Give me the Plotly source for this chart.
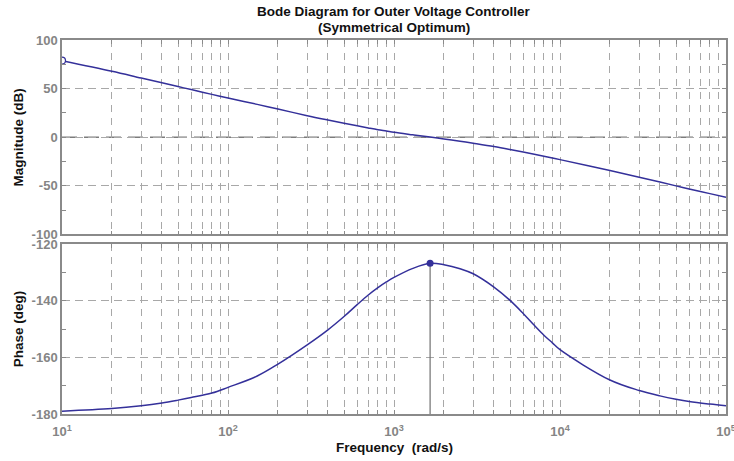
import plotly.graph_objects as go

# Open-loop frequency response of the outer voltage loop
freq_rad_s = [10, 20, 30, 40, 50, 60, 80, 100, 150, 200, 300, 400, 500, 600, 700, 800,
              900, 1000, 1300, 1650, 2000, 2500, 3000, 4000, 5000, 6000, 7000, 8000,
              9000, 10000, 20000, 30000, 40000, 50000, 60000, 80000, 100000]
magnitude_db = [78.8, 67.9, 60.9, 56.0, 52.1, 49.0, 44.1, 40.3, 33.8, 29.0, 22.2, 17.8,
                14.5, 11.8, 9.6, 7.8, 6.4, 5.1, 2.5, 0.2, -1.7, -4.1, -6.2, -9.6,
                -12.6, -15.2, -17.5, -19.6, -21.4, -23.0, -34.3, -41.1, -46.1, -50.0,
                -53.2, -58.0, -61.8]
phase_deg = [-179.0, -178.1, -177.1, -176.1, -175.1, -174.2, -172.6, -170.6, -166.6,
             -162.4, -155.6, -150.3, -145.6, -141.4, -138.0, -135.4, -133.4, -131.8,
             -128.6, -126.8, -127.3, -128.7, -130.5, -135.2, -139.9, -144.5, -148.7,
             -152.2, -154.9, -157.3, -168.0, -171.7, -173.6, -174.8, -175.6, -176.5,
             -177.1]

# Maximum phase (phase margin) point
peak_freq = 1650
peak_phase = -126.8

# Axis ticks
decades = [1, 2, 3, 4, 5]
mag_ticks = [-100, -50, 0, 50, 100]
mag_tick_text = ["-100", "-50", "0", "50", "100"]
mag_minor = [-75, -25, 25, 75]
phase_ticks = [-180, -160, -140, -120]
phase_tick_text = ["-180", "-160", "-140", "-120"]
phase_minor = [-170, -150, -130]

x_tickvals, x_ticktext = [], []
for d in decades:
    for m in range(1, 10):
        if d == 5 and m > 1:
            break
        x_tickvals.append(m * 10 ** d)
        x_ticktext.append(f"10<sup>{d}</sup>" if m == 1 else "")

CURVE = "#34309a"
FRAME = "#8a8a8a"
GRID = "#a8a8a8"
FONT_FAMILY = "Arial, Liberation Sans, sans-serif"
TICKFONT = dict(family=FONT_FAMILY, size=13, color="#858585", weight="bold")
LABELFONT = dict(family=FONT_FAMILY, size=13.5, color="#111111", weight="bold")

fig = go.Figure()

# Magnitude
fig.add_trace(go.Scatter(x=freq_rad_s, y=magnitude_db, xaxis="x2", yaxis="y2",
                         mode="lines", line=dict(color=CURVE, width=1.5, shape="spline",
                                                 smoothing=1.0),
                         showlegend=False))
fig.add_trace(go.Scatter(x=freq_rad_s[:1], y=magnitude_db[:1], xaxis="x2", yaxis="y2",
                         mode="markers",
                         marker=dict(size=7, color="white", line=dict(color=CURVE, width=1.2)),
                         showlegend=False))

# Phase
fig.add_trace(go.Scatter(x=[peak_freq, peak_freq], y=[phase_ticks[0], peak_phase],
                         xaxis="x", yaxis="y", mode="lines",
                         line=dict(color="#707070", width=1.2), showlegend=False,
                         hoverinfo="skip"))
fig.add_trace(go.Scatter(x=freq_rad_s, y=phase_deg, xaxis="x", yaxis="y",
                         mode="lines", line=dict(color=CURVE, width=1.5, shape="spline",
                                                 smoothing=1.0),
                         showlegend=False))
fig.add_trace(go.Scatter(x=[peak_freq], y=[peak_phase], xaxis="x", yaxis="y",
                         mode="markers", marker=dict(size=7, color=CURVE),
                         showlegend=False))

common_x = dict(type="log", range=[1, 5], tickmode="array", tickvals=x_tickvals,
                showgrid=True, gridcolor=GRID, gridwidth=1, griddash="7px,6px",
                showline=True, linecolor=FRAME, linewidth=1.5, mirror="ticks",
                ticks="inside", ticklen=4, tickcolor=FRAME, zeroline=False,
                tickfont=TICKFONT, automargin=False, ticklabelstandoff=5,
                ticklabeloverflow="allow")
common_y = dict(showgrid=True, gridcolor=GRID, gridwidth=1, griddash="8px,5px",
                showline=True, linecolor=FRAME, linewidth=1.5, mirror="ticks",
                ticks="inside", ticklen=4, tickcolor=FRAME, zeroline=False,
                tickfont=TICKFONT, tickmode="array", automargin=False,
                ticklabeloverflow="allow")

fig.update_layout(
    width=734, height=461,
    margin=dict(l=62, r=8, t=40, b=47),
    paper_bgcolor="white", plot_bgcolor="white",
    xaxis=dict(common_x, domain=[0, 1], anchor="y", ticktext=x_ticktext),
    xaxis2=dict(common_x, domain=[0, 1], anchor="y2", matches="x",
                showticklabels=False),
    yaxis=dict(common_y, domain=[0, 0.4545], range=[-180, -120],
               tickvals=phase_ticks, ticktext=phase_tick_text,
               minor=dict(tickmode="array", tickvals=phase_minor, ticks="inside",
                          ticklen=4, tickcolor=FRAME, showgrid=False)),
    yaxis2=dict(common_y, domain=[0.48, 1], range=[-100, 100],
                tickvals=mag_ticks, ticktext=mag_tick_text,
                minor=dict(tickmode="array", tickvals=mag_minor, ticks="inside",
                           ticklen=4, tickcolor=FRAME, showgrid=False)),
    shapes=[dict(type="line", xref="x2 domain", yref="y2", x0=0, x1=1, y0=0, y1=0,
                 line=dict(color="#7c7c7c", width=1.6, dash="15px,7px"), layer="below")],
    annotations=[
        dict(text="Bode Diagram for Outer Voltage Controller",
             xref="paper", yref="paper", x=0.5, y=1, yshift=29, xanchor="center",
             yanchor="middle", showarrow=False, font=LABELFONT),
        dict(text="(Symmetrical Optimum)",
             xref="paper", yref="paper", x=0.5, y=1, yshift=13, xanchor="center",
             yanchor="middle", showarrow=False, font=LABELFONT),
        dict(text="Magnitude (dB)", textangle=-90, xref="paper", yref="paper",
             x=-0.066, y=0.74, xanchor="center", yanchor="middle", showarrow=False,
             font=LABELFONT),
        dict(text="Phase (deg)", textangle=-90, xref="paper", yref="paper",
             x=-0.066, y=0.227, xanchor="center", yanchor="middle", showarrow=False,
             font=LABELFONT),
        dict(text="Frequency\u00a0\u00a0(rad/s)", xref="paper", yref="paper",
             x=0.5, y=0, yshift=-33, xanchor="center", yanchor="middle",
             showarrow=False, font=LABELFONT),
    ],
)

fig.write_html("out.html")
